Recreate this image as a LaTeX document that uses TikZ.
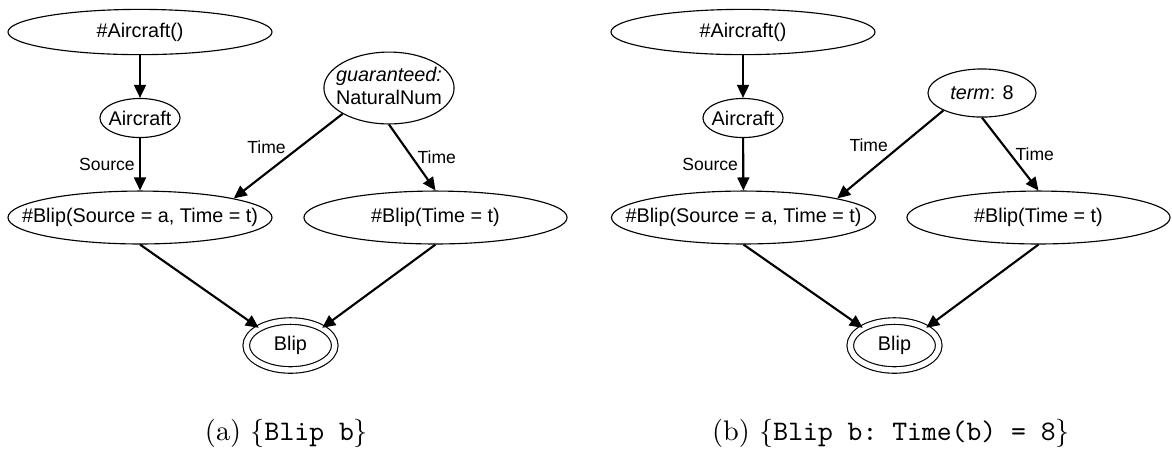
\documentclass[tikz,border=0pt]{standalone}
\usepackage{fontspec}
\usepackage{tikz}
\usetikzlibrary{arrows.meta,shapes.geometric}
\newfontfamily\figfont{Liberation Sans}
\newcommand{\ctr}[1]{\makebox[0pt]{#1}}

\begin{document}
\begin{tikzpicture}[x=0.01242cm,y=-0.01242cm,
        var/.style={draw, ellipse, line width=0.4pt, inner sep=0pt, font=\figfont\fontsize{7}{8.2}\selectfont},
        obs/.style={var, double, double distance=1.9pt},
        edge/.style={-{Triangle[length=4.6pt,width=4.2pt]}, line width=0.75pt},
        lbl/.style={font=\figfont\fontsize{6.2}{7}\selectfont, inner sep=1.5pt}]
    \useasboundingbox (0,0) rectangle (1172,451);
    % (a)
    \node[var, minimum width=93.3pt, minimum height=16pt] (fa) at (140,32) {\ctr{\#Aircraft()}};
    \node[var, minimum width=28.3pt, minimum height=13.8pt] (ac) at (140,118) {\ctr{Aircraft}};
    \node[var, minimum width=46pt, minimum height=25.4pt] (gn) at (389,88)
        {\ctr{\begin{tabular}{@{}c@{}}\itshape guaranteed:\\NaturalNum\end{tabular}}};
    \node[var, minimum width=93.3pt, minimum height=18.7pt] (bs) at (140,217.5) {\ctr{\#Blip(Source = a, Time = t)}};
    \node[var, minimum width=93pt, minimum height=18.7pt] (bt) at (435.5,217.5) {\ctr{\#Blip(Time = t)}};
    \node[obs, minimum width=31.3pt, minimum height=17.3pt] (bl) at (290.5,345.5) {\ctr{Blip}};
    \draw[edge] (fa) -- (ac);
    \draw[edge] (ac) -- node[lbl, left] {Source} (bs);
    \draw[edge] (gn.south west) -- node[lbl, above left, inner sep=0.5pt] {Time} (bs.north east);
    \draw[edge] (gn.south) -- node[lbl, right] {Time} (bt.north);
    \draw[edge] (bs.south) -- (bl.north west);
    \draw[edge] (bt.south) -- (bl.north east);
    \node[anchor=base] (capa) at (286.5,440) {(a) $\{$\texttt{Blip b}$\}$};
    % (b)
    \node[var, minimum width=93.3pt, minimum height=16pt] (fb) at (743,32) {\ctr{\#Aircraft()}};
    \node[var, minimum width=28.3pt, minimum height=13.8pt] (ab) at (743,118) {\ctr{Aircraft}};
    \node[var, minimum width=38.2pt, minimum height=17pt] (tm) at (982,93) {\ctr{\textit{term}: 8}};
    \node[var, minimum width=93.3pt, minimum height=18.7pt] (bs2) at (743.5,217.5) {\ctr{\#Blip(Source = a, Time = t)}};
    \node[var, minimum width=93pt, minimum height=18.7pt] (bt2) at (1038.5,217.5) {\ctr{\#Blip(Time = t)}};
    \node[obs, minimum width=31.3pt, minimum height=17.3pt] (bl2) at (894.5,345.5) {\ctr{Blip}};
    \draw[edge] (fb) -- (ab);
    \draw[edge] (ab) -- node[lbl, left] {Source} (bs2);
    \draw[edge] (tm.south west) -- node[lbl, above left, inner sep=0.5pt] {Time} (bs2.north east);
    \draw[edge] (tm.south) -- node[lbl, right] {Time} (bt2.north);
    \draw[edge] (bs2.south) -- (bl2.north west);
    \draw[edge] (bt2.south) -- (bl2.north east);
    \node[anchor=base] (capb) at (891,440) {(b) $\{$\texttt{Blip b:\ Time(b) = 8}$\}$};
\end{tikzpicture}
\end{document}
